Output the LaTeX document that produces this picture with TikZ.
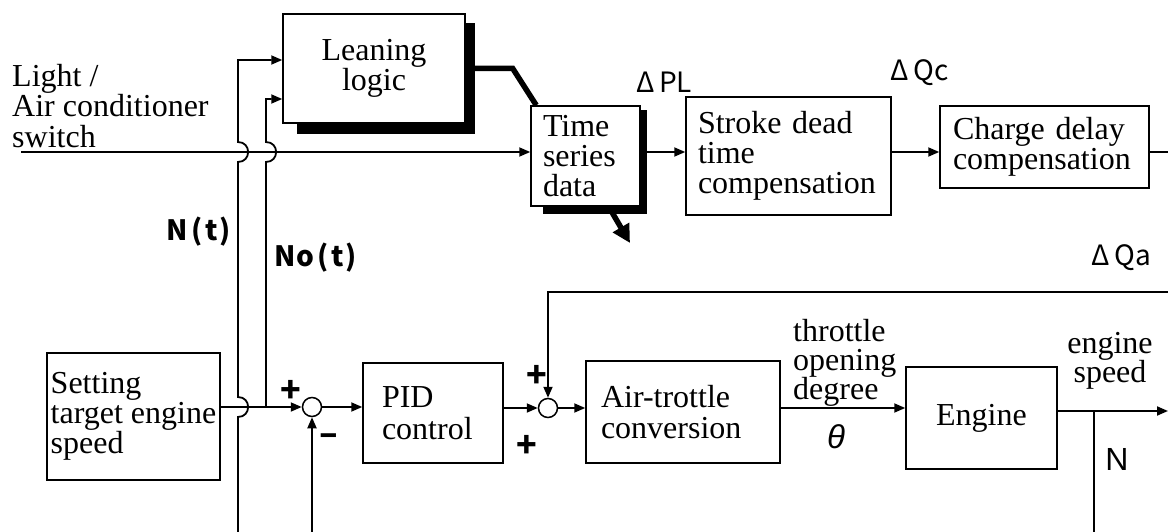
\documentclass[tikz,border=0pt]{standalone}
\usepackage{fontspec}
\setmainfont{Liberation Serif}
\newfontfamily\jpfont{Noto Sans CJK JP}
\newfontfamily\arialfont{Liberation Sans}
\usetikzlibrary{arrows.meta}
\pgfdeclarelayer{background}
\pgfsetlayers{background,main}
\setlength{\lineskiplimit}{-50pt}
\begin{document}
\begin{tikzpicture}[x=1pt,y=-1pt,
  ln/.style={line width=1.8pt},
  arr/.style={ln,-{Triangle[length=11pt,width=9pt]}},
  thickln/.style={line width=5.5pt},
  box/.style={draw,line width=1.5pt,fill=white,inner ysep=0pt,font=\fontsize{32}{30}\selectfont},
  sumc/.style={circle,draw,line width=1.5pt,fill=white,minimum size=19pt,inner sep=0pt},
  lbl/.style={inner sep=0pt,font=\fontsize{32}{30.5}\selectfont},
  jp/.style={font=\jpfont\fontsize{28}{28}\selectfont,inner sep=0pt},
  jpb/.style={font=\jpfont\bfseries\fontsize{28}{28}\selectfont,inner sep=0pt},
  sgn/.style={font=\jpfont\bfseries\fontsize{34}{34}\selectfont,inner sep=0pt}
]
\useasboundingbox (0,0) rectangle (1168,532);

% boxes
\node[box,align=center,minimum width=182pt,minimum height=109pt] (LL) at (374,68.5) {Leaning\\logic};
\node[box,align=left,text width=85pt,inner xsep=12pt,minimum height=100pt] (TS) at (585.5,156) {Time\\series\\data};
\node[box,align=left,text width=181pt,inner xsep=12pt,minimum height=118pt] (SD) at (788.5,156) {Stroke dead\\time\\compensation};
\node[box,align=left,text width=183pt,inner xsep=13pt,minimum height=82pt] (CD) at (1044.5,147) {Charge delay\\compensation};
\node[box,align=left,inner xsep=0pt,minimum width=173pt,minimum height=127pt] (ST) at (133.5,416.5) {Setting\\target engine\\speed};
\node[box,align=left,text width=102pt,inner xsep=19pt,minimum height=100pt,font=\fontsize{32}{31.5}\selectfont] (PID) at (433,413) {PID\\control};
\node[box,align=left,text width=164pt,inner xsep=15pt,minimum height=102pt,font=\fontsize{32}{31.5}\selectfont] (AT) at (683,412) {Air-trottle\\conversion};
\node[box,align=center,minimum width=151pt,minimum height=102pt] (EN) at (981.5,418) {Engine};

\node[sumc] (S1) at (312,407) {};
\node[sumc] (S2) at (548,408) {};

% shadows
\begin{pgfonlayer}{background}
\fill ([xshift=15pt,yshift=-10pt]LL.north west) rectangle ([xshift=9pt,yshift=-10pt]LL.south east);
\fill ([xshift=13pt,yshift=-5pt]TS.north west) rectangle ([xshift=6pt,yshift=-7pt]TS.south east);
\end{pgfonlayer}

% free ends
\coordinate (lightL) at (21,152);
\coordinate (outR) at (1168,152);
\coordinate (qaR) at (1168,292);
\coordinate (enR) at (1168,411);
\coordinate (nJ) at (1094,411);
\coordinate (nB) at (1094,532);
\coordinate (fb1) at (312,532);
\coordinate (ntB) at (238,532);
\coordinate (noJ) at (266,407);
\coordinate (tsout) at (630,243);

% upper chain
\draw[arr] (lightL) -- (lightL -| TS.west);
\draw[arr] (TS.east |- lightL) -- (SD.west |- lightL);
\draw[arr] (SD.east |- lightL) -- (CD.west |- lightL);
\draw[ln] (CD.east |- lightL) -- (outR);

% N(t) and No(t)
\draw[arr] (ntB) -- (238,417) .. controls (251.5,417) and (251.5,397) .. (238,397)
  -- (238,162) .. controls (251.5,162) and (251.5,142) .. (238,142)
  -- (238,60) -- ([yshift=8.5pt]LL.west);
\draw[arr] (noJ) -- (266,162) .. controls (279.5,162) and (279.5,142) .. (266,142)
  -- (266,99) -- ([yshift=-30.5pt]LL.west);

% lower chain
\draw[arr] (ST.east |- S1) -- (S1.west);
\draw[arr] (S1.east) -- (PID.west |- S1);
\draw[arr] (PID.east |- S2) -- (S2.west);
\draw[arr] (S2.east) -- (AT.west |- S2);
\draw[arr] (AT.east |- S2) -- (EN.west |- S2);
\draw[arr] (EN.east |- enR) -- (enR);
\draw[ln] (nJ) -- (nB);
\draw[arr] (fb1) -- (S1.south);
\draw[arr] (qaR) -| (S2.north);

% thick connectors
\draw[thickln] ([xshift=9pt]LL.east) -- ++(38,0) -- ([xshift=6pt]TS.north west);
\draw[thickln,-{Triangle[length=18pt,width=18pt]}] ([xshift=-32pt]TS.south east) -- (tsout);

% labels
\node[lbl,align=left,anchor=north west] (lightlbl) at (12,64) {Light /\\Air conditioner\\switch};
\node[lbl,align=left,anchor=north west,font=\fontsize{32}{29}\selectfont] (thr) at (793,319) {throttle\\opening\\degree};
\node[lbl,align=center,anchor=north,font=\fontsize{32}{29}\selectfont] (es) at (1110,332) {engine\\speed};
\node[font=\arialfont\itshape\fontsize{33}{33}\selectfont,inner sep=0pt] (th) at (836,437) {θ};
\node[font=\arialfont\fontsize{32}{32}\selectfont,inner sep=0pt] (Nl) at (1117,459) {N};
\node[jpb] (Nt) at (199,232) {N\kern3pt(\kern3pt t\kern2pt)};
\node[jpb] (Not) at (316,258) {No\kern3pt(\kern3pt t\kern2pt)};
\node[jp] (dpl) at (664,82) {Δ\,PL};
\node[jp] (dqc) at (920,73) {Δ\,Qc};
\node[jp] (dqa) at (1121,258) {Δ\,Qa};
\node[sgn] (p1) at (291,391) {+};
\node[sgn] (m1) at (329,440) {–};
\node[sgn] (p2) at (537,376) {+};
\node[sgn] (p3) at (527,446) {+};
\end{tikzpicture}
\end{document}
